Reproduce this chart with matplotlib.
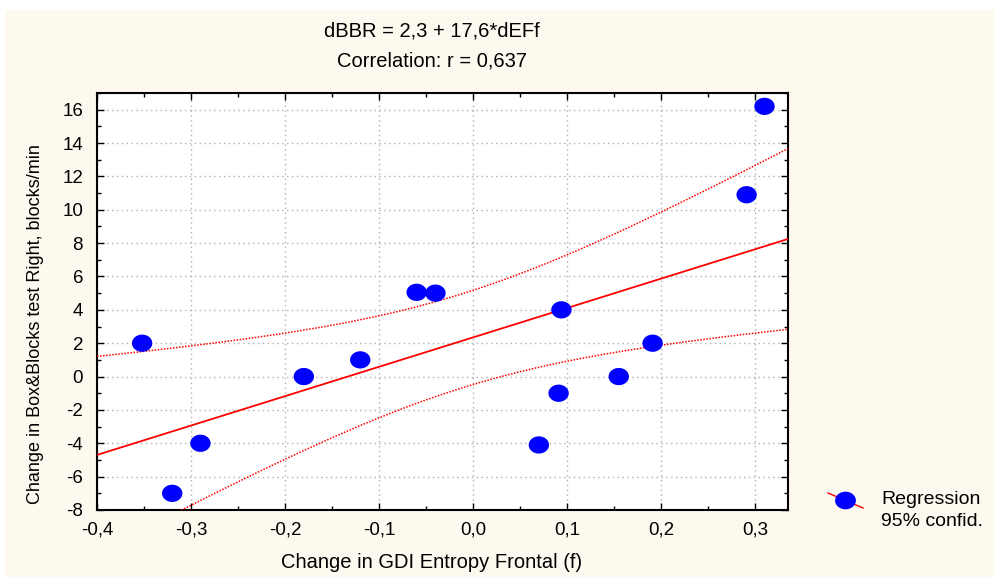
import numpy as np
import matplotlib
matplotlib.use("Agg")
import matplotlib.pyplot as plt
from matplotlib.ticker import MultipleLocator, FuncFormatter
from matplotlib.lines import Line2D
from matplotlib.patches import Rectangle

# data
d_entropy = [-0.352, -0.29, -0.32, -0.18, -0.12, -0.06, -0.04,
             0.094, 0.091, 0.070, 0.155, 0.191, 0.291, 0.310]
d_bbr = [2.0, -4.0, -7.0, 0.0, 1.0, 5.05, 5.0,
         4.0, -1.0, -4.1, 0.0, 2.0, 10.9, 16.2]
title_lines = ["dBBR = 2,3 + 17,6*dEFf", "Correlation: r = 0,637"]

plt.rcParams["font.family"] = ["Liberation Sans", "DejaVu Sans"]

x = np.array(d_entropy)
y = np.array(d_bbr)
n = len(x)
b, a = np.polyfit(x, y, 1)
resid = y - (a + b * x)
s = np.sqrt(np.sum(resid ** 2) / (n - 2))
sxx = np.sum((x - x.mean()) ** 2)
t = 2.1788  # t(0.975, 12)
xs = np.linspace(-0.4, 0.335, 200)
yh = a + b * xs
half = t * s * np.sqrt(1 / n + (xs - x.mean()) ** 2 / sxx)

fig = plt.figure(figsize=(9.95, 5.77), dpi=100)
fig.patch.set_facecolor("white")
fig.add_artist(Rectangle((5 / 995, 0), 990 / 995, 1 - 10 / 577, transform=fig.transFigure,
                         facecolor="#fdf9ee", edgecolor="none", zorder=-10))

ax = fig.add_axes([97 / 995, 1 - 510 / 577, (788 - 97) / 995, (510 - 93) / 577])
ax.set_facecolor("white")

ax.plot(xs, yh, color="red", lw=1.3, zorder=3)
ax.plot(xs, yh + half, color="red", lw=1.1, ls=(0, (1, 1)), zorder=3)
ax.plot(xs, yh - half, color="red", lw=1.1, ls=(0, (1, 1)), zorder=3)

th = np.linspace(0, 2 * np.pi, 60)
ell = np.column_stack([1.18 * np.cos(th), np.sin(th)])
ax.scatter(x, y, s=215, marker=ell, color="blue", edgecolors="none", zorder=4)

ax.set_xlim(-0.4, 0.335)
ax.set_ylim(-8, 17)
ax.xaxis.set_major_locator(MultipleLocator(0.1))
ax.xaxis.set_minor_locator(MultipleLocator(0.05))
ax.yaxis.set_major_locator(MultipleLocator(2))
ax.yaxis.set_minor_locator(MultipleLocator(1))
ax.xaxis.set_major_formatter(FuncFormatter(lambda v, p: f"{v:.1f}".replace(".", ",").replace("-0,0", "0,0")))
ax.yaxis.set_major_formatter(FuncFormatter(lambda v, p: f"{v:.0f}"))
ax.tick_params(which="both", direction="in", top=True, right=True, width=1, labelsize=13.5)
ax.tick_params(axis="x", pad=8)
ax.tick_params(axis="y", pad=10)
ax.tick_params(which="major", length=5)
ax.tick_params(which="minor", length=3)
ax.grid(which="major", color="#b0b0b0", ls=(0, (1, 2.5)), lw=1)
for sp in ax.spines.values():
    sp.set_linewidth(1.5)

ax.set_xlabel("Change in GDI Entropy Frontal (f)", fontsize=14.5)
ax.xaxis.set_label_coords((432 - 97) / 691, (510 - 553) / 417)
fig.text(36 / 995, 1 - 324 / 577, "Change in Box&Blocks test Right, blocks/min",
         fontsize=13, rotation=90, ha="center", va="center")

fig.text(432 / 995, 1 - 31 / 577, title_lines[0], fontsize=14.5, ha="center", va="center")
fig.text(432 / 995, 1 - 61 / 577, title_lines[1], fontsize=14.5, ha="center", va="center")

# legend drawn by hand
fig.add_artist(Line2D([828 / 995, 863 / 995], [1 - 493 / 577, 1 - 508 / 577],
                      transform=fig.transFigure, color="red", lw=1))
fig.add_artist(Line2D([845 / 995], [1 - 500 / 577], transform=fig.transFigure,
                      marker=ell, markersize=15, color="blue", markeredgecolor="none"))
fig.text(881 / 995, 1 - 499 / 577, "Regression", fontsize=14, va="center")
fig.text(881 / 995, 1 - 522 / 577, "95% confid.", fontsize=14, va="center")

fig.savefig("out.png", dpi=100, facecolor=fig.get_facecolor())
